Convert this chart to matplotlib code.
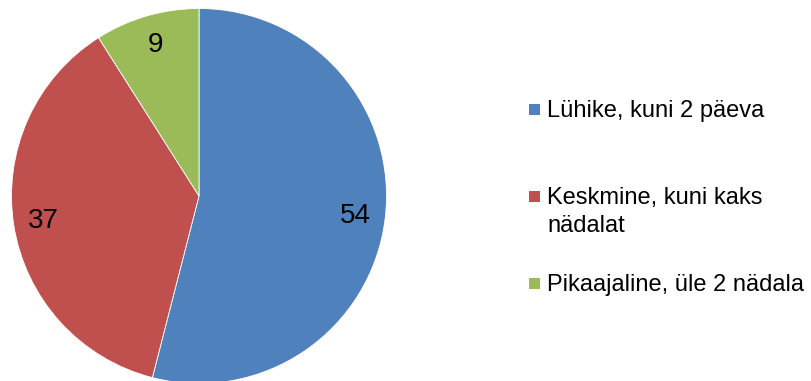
import matplotlib.pyplot as plt
from matplotlib.patches import Rectangle

plt.rcParams['font.family'] = ['Liberation Sans', 'DejaVu Sans']

# duration categories and their counts
categories = ['Lühike, kuni 2 päeva', 'Keskmine, kuni kaks\nnädalat', 'Pikaajaline, üle 2 nädala']
counts = [54, 37, 9]
colors = ['#4F81BD', '#C0504D', '#9BBB59']

W, H = 811, 381
fig = plt.figure(figsize=(W / 100, H / 100), dpi=100)

# pie axes: 375px square, centre at (199, 196) from top-left
cx, cy, r = 199, 196, 187.5
ax = fig.add_axes([(cx - r) / W, (H - cy - r) / H, 2 * r / W, 2 * r / H])
total = sum(counts)
ax.pie(counts, colors=colors, startangle=90, counterclock=False, radius=1,
       wedgeprops=dict(edgecolor='white', linewidth=0.6),
       autopct=lambda p: f'{p * total / 100:.0f}', pctdistance=0.84,
       textprops=dict(fontsize=20, color='black'))
ax.set_xlim(-1, 1)
ax.set_ylim(-1, 1)
ax.set_aspect('equal')
ax.axis('off')

# legend drawn by hand, first-line baselines in px from top
baselines = [117, 204, 291]
line_step = 28
for lab, col, yb in zip(categories, colors, baselines):
    fig.patches.append(Rectangle((529 / W, (H - yb + 2) / H), 11 / W, 11 / H,
                                 transform=fig.transFigure, facecolor=col,
                                 edgecolor='none'))
    for i, line in enumerate(lab.split('\n')):
        fig.text(547 / W, (H - yb - i * line_step) / H, line, fontsize=17,
                 va='baseline', ha='left')

fig.savefig('out.png', dpi=100)
